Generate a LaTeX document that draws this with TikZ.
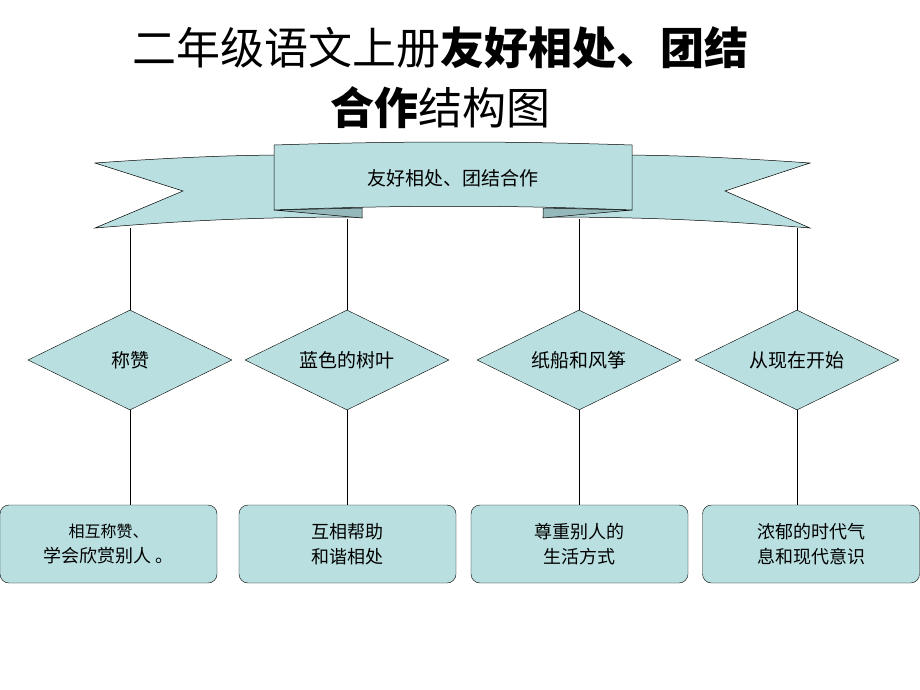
\documentclass[tikz,border=0pt]{standalone}
\usepackage{fontspec}
\setmainfont{Noto Sans CJK SC}
\usetikzlibrary{shapes.geometric}
\definecolor{fillc}{HTML}{B9DFE0}
\definecolor{darkc}{HTML}{95B9BA}
\begin{document}
\begin{tikzpicture}[x=1pt,y=-1pt,
  ln/.style={black,line width=0.5pt},
  dia/.style={diamond,draw=black,fill=fillc,minimum width=204pt,minimum height=100pt,aspect=2.04,inner sep=0pt,font=\fontsize{19}{22}\selectfont},
  bx/.style={draw=black,fill=fillc,rounded corners=9pt,minimum width=217pt,minimum height=78pt,align=center,font=\fontsize{18}{25}\selectfont}]
\useasboundingbox (0,0) rectangle (920,690);
\node[font=\fontsize{44}{50}\selectfont] (t1) at (440,48) {二年级语文上册\textbf{友好相处、团结}};
\node[font=\fontsize{44}{50}\selectfont] (t2) at (440,108) {\textbf{合作}结构图};
% banner wings
\draw[ln,fill=fillc] (95,163) .. controls (180,157) and (240,155) .. (290,155) -- (362,217) .. controls (250,217) and (180,221) .. (95,228) -- (183,191) -- cycle;
\draw[ln,fill=fillc] (810,163) .. controls (725,157) and (665,155) .. (615,155) -- (543,217) .. controls (655,217) and (725,221) .. (810,228) -- (725,191) -- cycle;
\draw[ln,fill=darkc] (274,210) -- (362,208) -- (362,218) -- cycle;
\draw[ln,fill=darkc] (632,210) -- (543,208) -- (543,218) -- cycle;
\draw[ln,fill=fillc] (274,145) .. controls (400,141) and (510,141) .. (632,145) -- (632,210) .. controls (510,205) and (400,205) .. (274,210) -- cycle;
\node[font=\fontsize{19}{22}\selectfont] (ban) at (453,178) {友好相处、团结合作};
\coordinate (b1) at (130,228);
\coordinate (b2) at (347,219);
\coordinate (b3) at (579,219);
\coordinate (b4) at (797,228);
\node[dia] (d1) at (130,360) {称赞};
\node[dia] (d2) at (347,360) {蓝色的树叶};
\node[dia] (d3) at (579,360) {纸船和风筝};
\node[dia] (d4) at (797,360) {从现在开始};
\node[bx] (x1) at (108.5,544) {\fontsize{16}{25}\selectfont 相互称赞、\\ 学会欣赏别人 。};
\node[bx] (x2) at (347.5,544) {互相帮助\\和谐相处};
\node[bx] (x3) at (579.5,544) {尊重别人的\\生活方式};
\node[bx] (x4) at (811,544) {浓郁的时代气\\息和现代意识};
\foreach \i in {1,2,3,4}{\draw[ln] (b\i) -- (d\i.north); \draw[ln] (d\i.south) -- (d\i.south |- x\i.north);}
\end{tikzpicture}
\end{document}
